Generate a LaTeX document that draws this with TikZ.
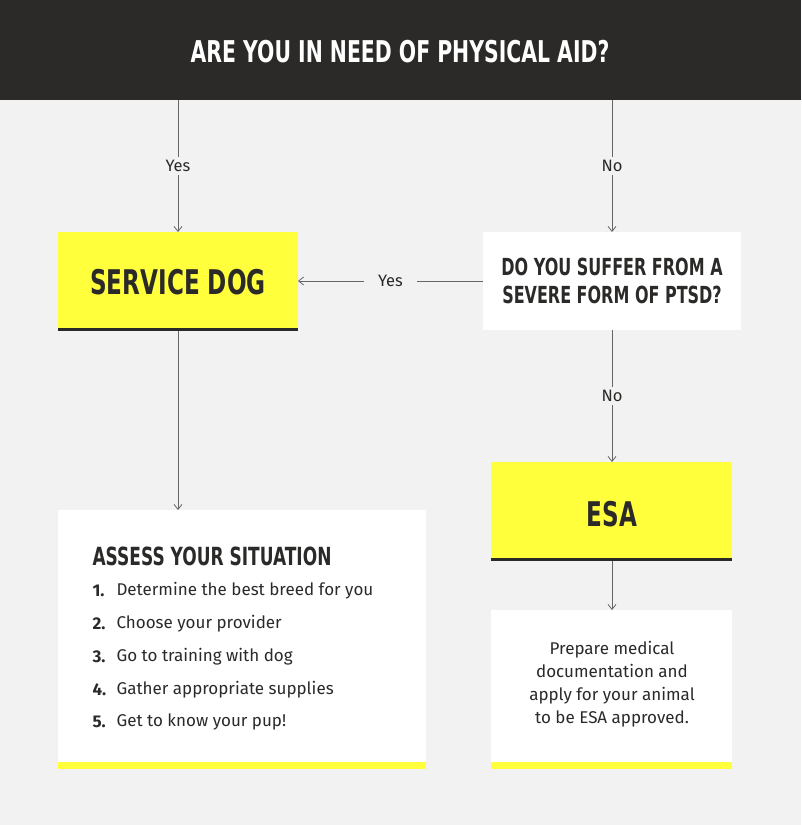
\documentclass[tikz,border=0pt]{standalone}
\usepackage{fontspec}
\setmainfont{Fira Sans}
\newfontfamily\condf[FakeStretch=0.68]{DejaVu Sans}
\usetikzlibrary{arrows.meta}
\definecolor{dark}{HTML}{2B2A28}
\definecolor{bg}{HTML}{F2F2F2}
\definecolor{yel}{HTML}{FFFF3C}
\definecolor{txt}{HTML}{2B2A28}
\tikzset{
 conn/.style={draw=black!60,line width=0.8pt},
 arr/.style={conn,-{Straight Barb[length=5pt,width=8pt]}},
 lbl/.style={fill=bg,inner sep=3pt,font=\fontsize{16.5}{18}\selectfont,text=txt},
 ttl/.style={font=\condf\bfseries\fontsize{30}{32}\selectfont,text=txt,align=center},
 body/.style={font=\fontsize{17}{23}\selectfont,text=txt},
}
\begin{document}
\begin{tikzpicture}[x=1pt,y=-1pt]
\useasboundingbox (0,0) rectangle (801,825);
\fill[bg] (0,0) rectangle (801,825);
\fill[dark] (0,0) rectangle (801,100);
\node[font=\condf\bfseries\fontsize{30}{32}\selectfont,text=white] (head) at (400,52) {ARE YOU IN NEED OF PHYSICAL AID?};
\coordinate (hl) at (178,100); \coordinate (hr) at (612,100);
% service dog
\fill[yel] (58,232) rectangle (298,330);
\draw[dark,line width=3pt] (58,329) -- (298,329);
\node[ttl,font=\condf\bfseries\fontsize{34}{36}\selectfont] (sd) at (178,282) {SERVICE DOG};
\coordinate (sdt) at (178,232); \coordinate (sdb) at (178,331); \coordinate (sdr) at (298,281);
% ptsd
\fill[white] (483,232) rectangle (741,330);
\node[ttl,font=\condf\bfseries\fontsize{23.5}{28}\selectfont] (pt) at (612,281) {DO YOU SUFFER FROM A\\SEVERE FORM OF PTSD?};
\coordinate (ptt) at (612,232); \coordinate (ptb) at (612,330); \coordinate (ptl) at (483,281);
% esa
\fill[yel] (491,462) rectangle (732,560);
\draw[dark,line width=3pt] (491,559) -- (732,559);
\node[ttl,font=\condf\bfseries\fontsize{34}{36}\selectfont] (esa) at (612,514) {ESA};
\coordinate (esat) at (612,462); \coordinate (esab) at (612,561);
% esa text box
\fill[white] (491,610) rectangle (732,762);
\fill[yel] (491,762) rectangle (732,769);
\node[body,align=center] (esatx) at (612,684) {Prepare medical\\documentation and\\apply for your animal\\to be ESA approved.};
\coordinate (esatt) at (612,610);
% assess box
\fill[white] (58,510) rectangle (426,762);
\fill[yel] (58,762) rectangle (426,769);
\coordinate (ast) at (178,510);
\node[ttl,anchor=west,font=\condf\bfseries\fontsize{25}{27}\selectfont] (as) at (89,556) {ASSESS YOUR SITUATION};
\foreach \i/\t/\y in {1/Determine the best breed for you/591,2/Choose your provider/624,3/Go to training with dog/657,4/Gather appropriate supplies/690,5/Get to know your pup!/722}{
 \node[body,anchor=west,font=\bfseries\fontsize{17}{20}\selectfont] (n\i) at (89,\y) {\i.};
 \node[body,anchor=west] (t\i) at (113,\y) {\t};
}
% connectors
\draw[arr] (hl) -- node[lbl]{Yes} (sdt);
\draw[arr] (hr) -- node[lbl]{No} (ptt);
\draw[arr] (ptl) -- node[lbl,inner xsep=14pt]{Yes} (sdr);
\draw[arr] (ptb) -- node[lbl]{No} (esat);
\draw[arr] (esab) -- (esatt);
\draw[arr] (sdb) -- (ast);
\end{tikzpicture}
\end{document}
